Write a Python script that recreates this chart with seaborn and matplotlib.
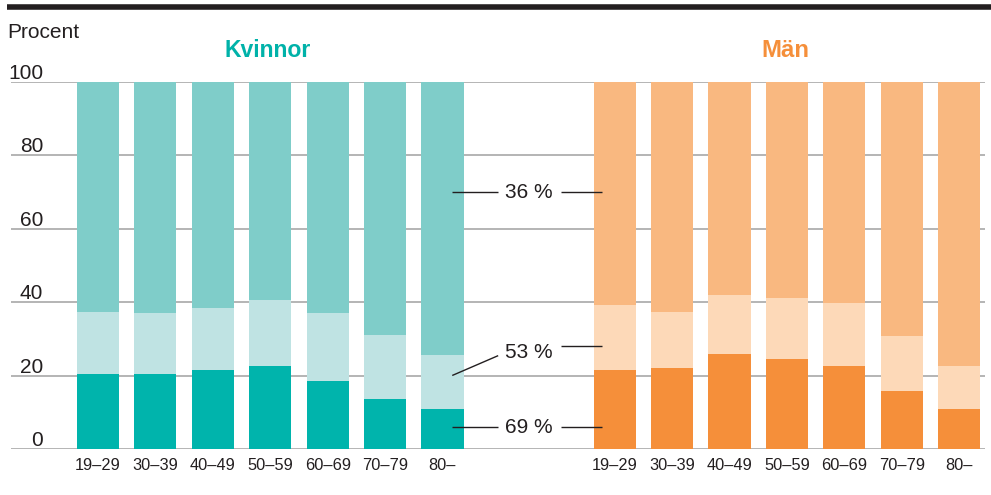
import numpy as np
import matplotlib
matplotlib.use("Agg")
import matplotlib.pyplot as plt
import seaborn as sns

# age groups and shares (percent)
ages = ['19–29', '30–39', '40–49', '50–59', '60–69', '70–79', '80–']
kv_low = [20.5, 20.5, 21.6, 22.7, 18.6, 13.7, 11.0]
kv_mid = [17.0, 16.7, 16.9, 18.0, 18.6, 17.5, 14.8]
man_low = [21.6, 22.2, 26.0, 24.6, 22.7, 15.9, 11.0]
man_mid = [17.8, 15.3, 16.1, 16.6, 17.1, 15.0, 11.7]

y_ticks = [0, 20, 40, 60, 80, 100]
note_labels = ['36 %', '53 %', '69 %']

KV_COLORS = ['#00b4ac', '#bfe3e3', '#7fcdc9']   # low, mid, top
MAN_COLORS = ['#f58f3a', '#fdd9b8', '#f9b880']
TEXT = '#231f20'


def draw_group(ax, x, low, mid, colors):
    low = np.array(low)
    mid = np.array(mid)
    top_of_mid = low + mid
    full = np.full(len(low), 100.0)
    # draw tallest first so the shorter layers sit on top
    for heights, c in zip([full, top_of_mid, low], [colors[2], colors[1], colors[0]]):
        sns.barplot(x=x, y=heights, color=c, native_scale=True, width=0.733,
                    saturation=1, errorbar=None, linewidth=0, ax=ax, zorder=2)


def main():
    sns.set_style('white')
    plt.rcParams['font.family'] = ['Liberation Sans', 'DejaVu Sans']

    fig = plt.figure(figsize=(9.91, 4.95), dpi=100)
    ax = fig.add_axes([11 / 991, 1 - 449.3 / 495, 974 / 991, (449.3 - 82) / 495])

    n = len(ages)
    x_kv = np.arange(n)
    x_man = np.arange(n) + n + 2

    draw_group(ax, x_kv, kv_low, kv_mid, KV_COLORS)
    draw_group(ax, x_man, man_low, man_mid, MAN_COLORS)

    ax.set_xlim(-1.516, 15.45)
    ax.set_ylim(0, 100)
    for s in ax.spines.values():
        s.set_visible(False)

    for v in y_ticks:
        ax.axhline(v, color='#a8a8a8', lw=1.2, zorder=0)
        ax.text(0.0329, v + 0.9, str(v), transform=ax.get_yaxis_transform(),
                ha='right', va='baseline', fontsize=15, color=TEXT)
    ax.set_yticks([])

    ax.set_xticks(list(x_kv) + list(x_man))
    ax.set_xticklabels(ages + ages, fontsize=11.8, color=TEXT)
    ax.tick_params(axis='x', length=0, pad=6)
    ax.set_xlabel('')
    ax.set_ylabel('')

    # callouts between the panels: top, middle, bottom segment
    x_text = (x_kv[-1] + x_man[0]) / 2 + 0.01
    left_a, left_b = x_kv[-1] + 0.17, x_kv[-1] + 0.97
    right_a, right_b = x_man[0] - 0.93, x_man[0] - 0.22
    note_y = [70.0, 26.4, 6.0]
    left_start = [70.0, 20.1, 6.0]
    left_end = [70.0, 25.5, 6.0]
    right_y = [70.0, 28.2, 6.0]
    for lab, ty, ls, le, ry in zip(note_labels, note_y, left_start, left_end, right_y):
        ax.text(x_text, ty, lab, ha='center', va='center', fontsize=15, color=TEXT, zorder=5)
        ax.plot([left_a, left_b], [ls, le], color=TEXT, lw=1.0, zorder=5, solid_capstyle='butt')
        ax.plot([right_a, right_b], [ry, ry], color=TEXT, lw=1.0, zorder=5, solid_capstyle='butt')

    # panel titles
    ax.text(np.mean(x_kv) - 0.04, 1.085, 'Kvinnor', transform=ax.get_xaxis_transform(),
            ha='center', va='center', fontsize=16.6, fontweight='bold', color='#00b2a9')
    ax.text(np.mean(x_man) - 0.03, 1.085, 'Män', transform=ax.get_xaxis_transform(),
            ha='center', va='center', fontsize=17.2, fontweight='bold', color='#f58f3a')

    fig.text(7 / 991, 1 - 33 / 495, 'Procent', ha='left', va='center', fontsize=15, color=TEXT)
    fig.add_artist(plt.Line2D([7 / 991, 1], [1 - 6.5 / 495] * 2, color=TEXT, lw=4,
                              solid_capstyle='butt'))

    fig.savefig('out.png', dpi=100)
    plt.close(fig)


if __name__ == '__main__':
    main()
